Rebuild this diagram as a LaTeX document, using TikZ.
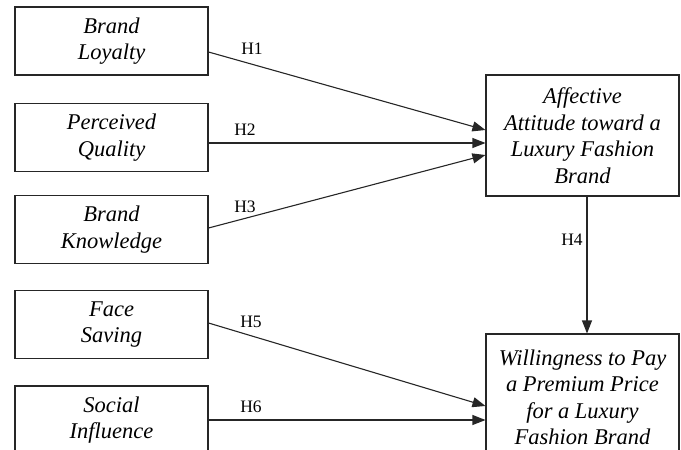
\documentclass[tikz,border=0pt]{standalone}
\usepackage{fontspec}
\setmainfont{Liberation Serif}
\usetikzlibrary{arrows.meta}
\begin{document}
\begin{tikzpicture}[x=1pt,y=-1pt,
  box/.style={draw=black!85,line width=1.1pt,rectangle,align=center,inner sep=0pt,
    font=\fontsize{22.5}{26.5}\selectfont\itshape},
  lbox/.style={box,minimum width=193pt,minimum height=68pt},
  rbox/.style={box,minimum width=193pt},
  hyp/.style={font=\fontsize{17.5}{20}\selectfont,inner sep=0pt},
  conn/.style={line width=1.1pt,black!85,-{Triangle[length=13pt,width=10pt]}}]
\useasboundingbox (0,0) rectangle (681,450);
\clip (0,0) rectangle (681,450);
\node[lbox] (bl) at (111.5,41) {Brand\\Loyalty};
\node[lbox] (pq) at (111.5,137.5) {Perceived\\Quality};
\node[lbox] (bk) at (111.5,229.5) {Brand\\Knowledge};
\node[lbox] (fs) at (111.5,324.5) {Face\\Saving};
\node[lbox] (si) at (111.5,420) {Social\\Influence};
\node[rbox,minimum height=121pt] (aa) at (582.5,135.5) {Affective\\Attitude toward a\\Luxury Fashion\\Brand};
\node[rbox,minimum height=127pt] (wp) at (582.5,397.5) {Willingness to Pay\\a Premium Price\\for a Luxury\\Fashion Brand};
\draw[conn] ([yshift=-11pt]bl.east) -- ([yshift=5.5pt]aa.west);
\draw[conn] ([yshift=-5.5pt]pq.east) -- ([yshift=-7.5pt]aa.west);
\draw[conn] ([yshift=1.5pt]bk.east) -- ([yshift=-19.5pt]aa.west);
\draw[conn] ([xshift=4.5pt]aa.south) -- ([xshift=4.5pt]wp.north);
\draw[conn] ([yshift=1.5pt]fs.east) -- ([yshift=-8.5pt]wp.west);
\draw[conn] (si.east) -- ([yshift=-22.5pt]wp.west);
\node[hyp] (h1) at (252,49) {H1};
\node[hyp] (h2) at (245,130) {H2};
\node[hyp] (h3) at (245,207) {H3};
\node[hyp] (h4) at (572,240) {H4};
\node[hyp] (h5) at (251,322) {H5};
\node[hyp] (h6) at (251,407) {H6};
\end{tikzpicture}
\end{document}
